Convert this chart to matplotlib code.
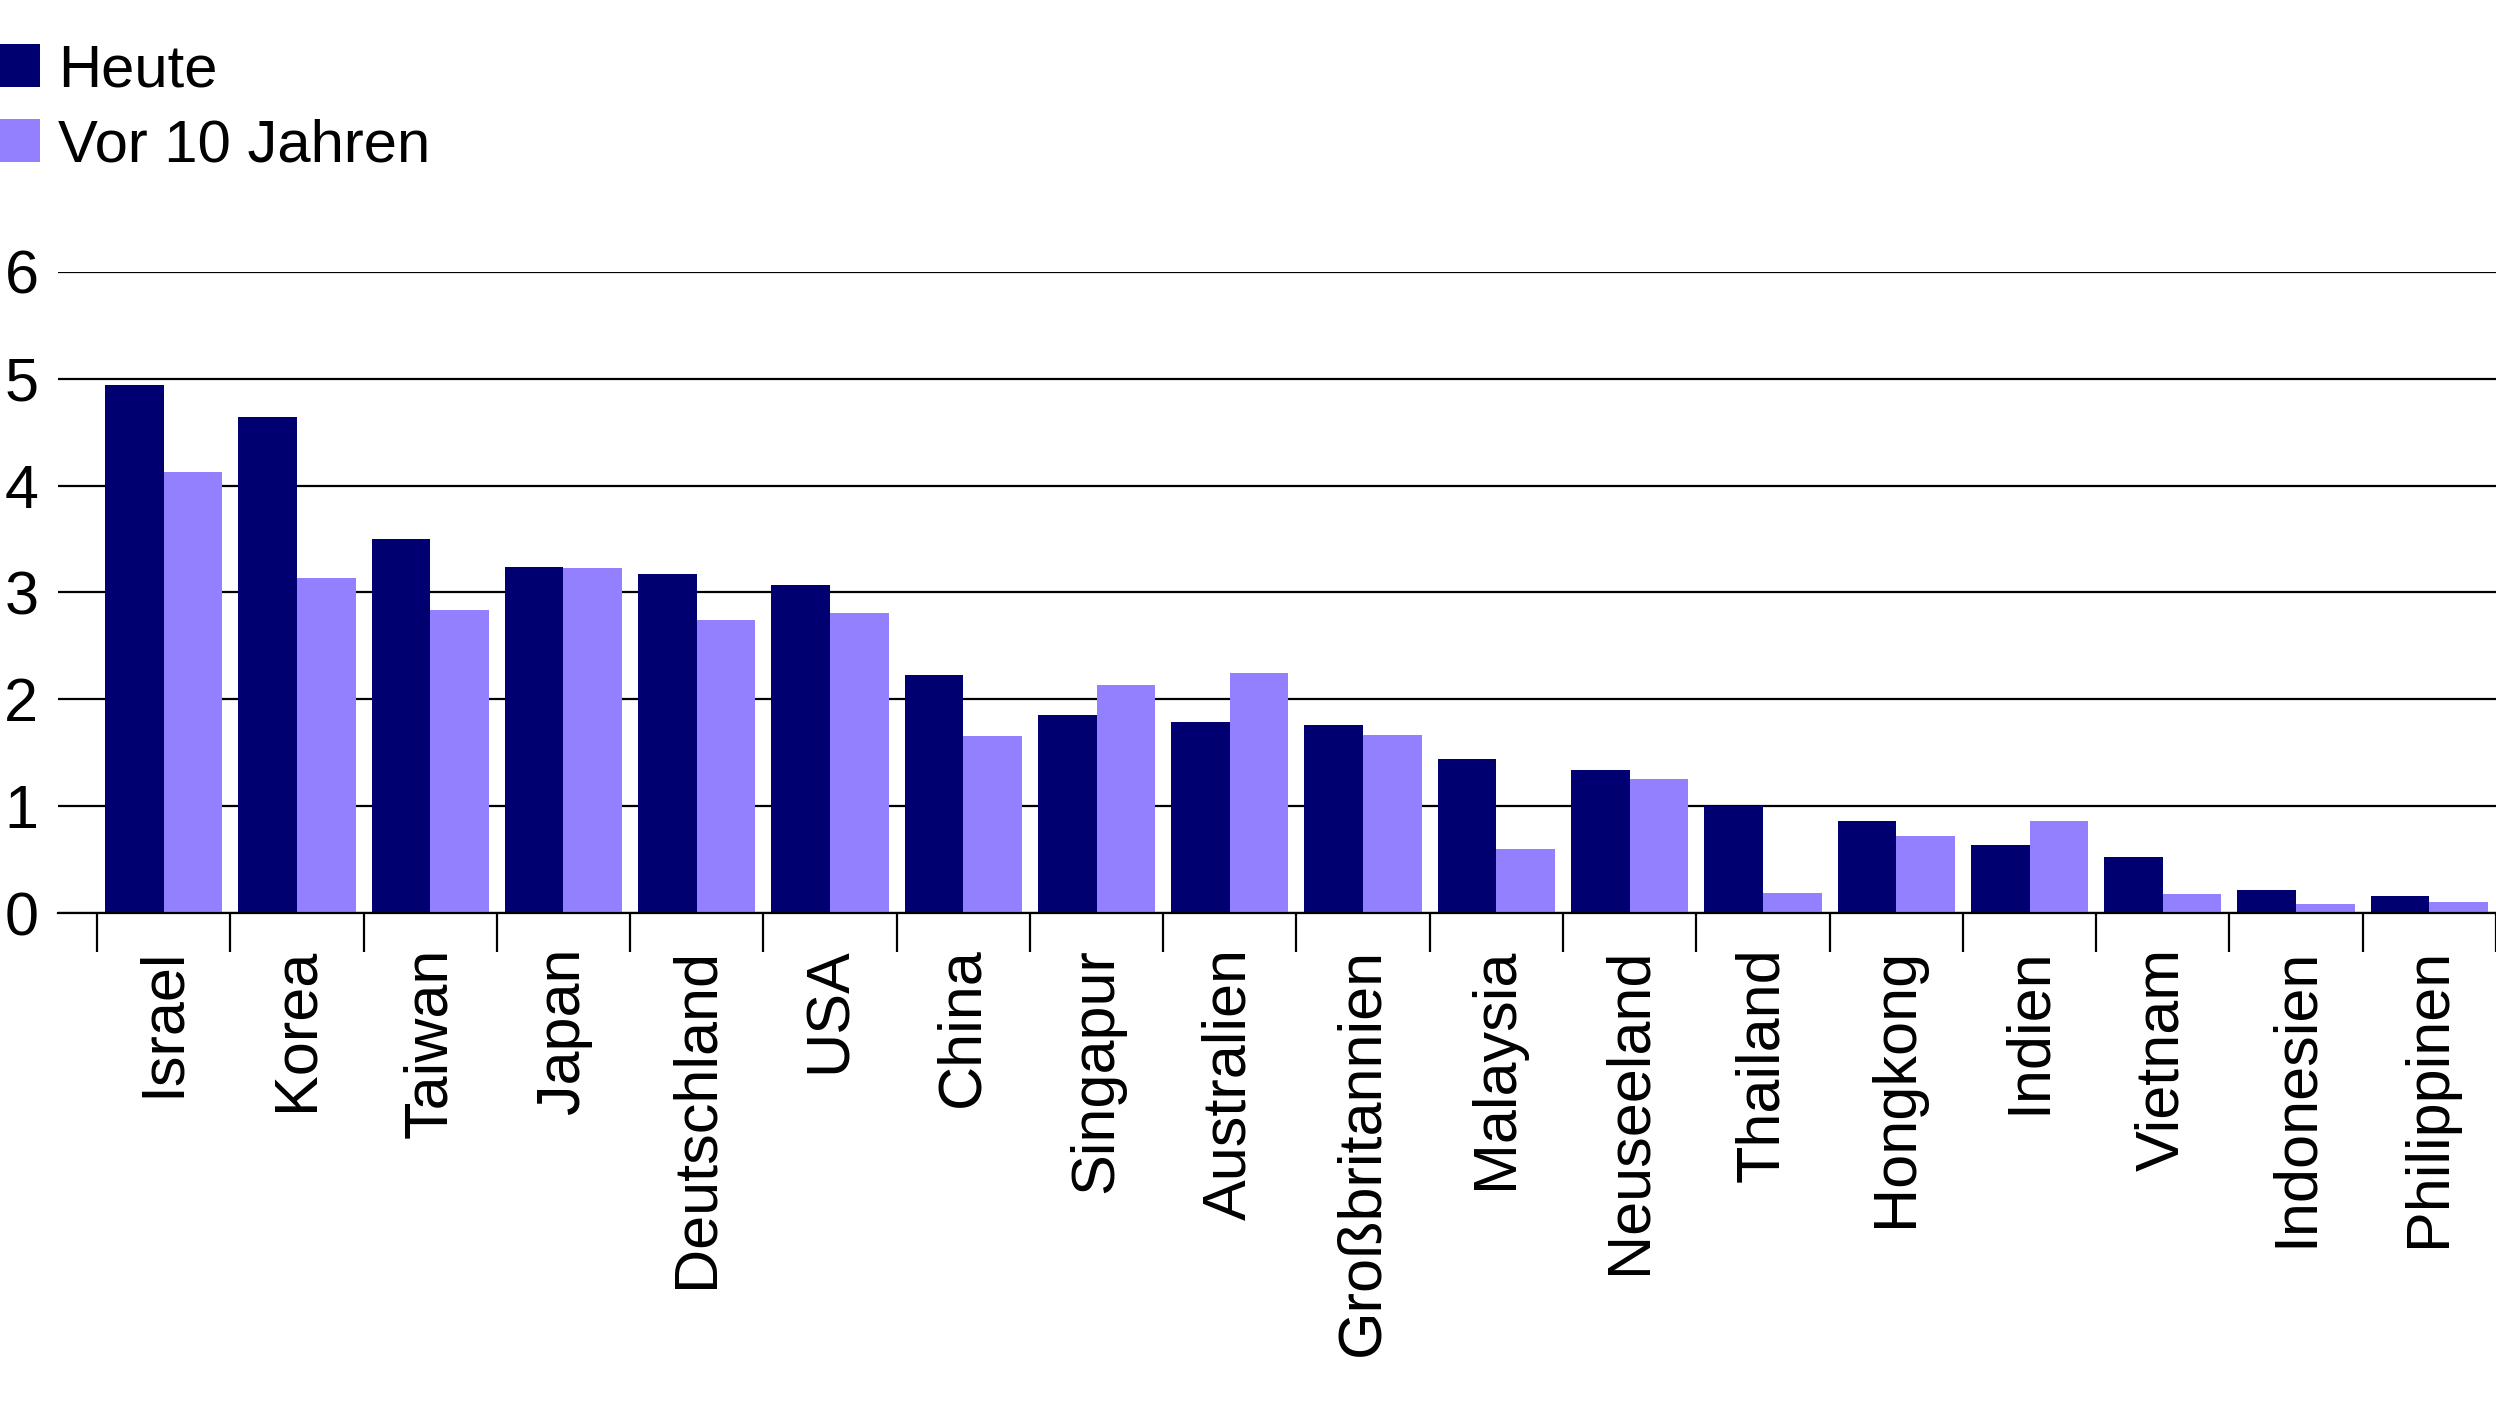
import matplotlib
matplotlib.use("Agg")
import matplotlib.pyplot as plt
import numpy as np
from matplotlib.patches import Patch

plt.rcParams['font.family'] = ['Liberation Sans', 'DejaVu Sans']

# data
countries = ['Israel', 'Korea', 'Taiwan', 'Japan', 'Deutschland', 'USA', 'China',
             'Singapur', 'Australien', 'Großbritannien', 'Malaysia', 'Neuseeland',
             'Thailand', 'Hongkong', 'Indien', 'Vietnam', 'Indonesien', 'Philippinen']
heute = [4.94, 4.64, 3.50, 3.24, 3.17, 3.07, 2.23, 1.85, 1.79, 1.76, 1.44, 1.34,
         1.00, 0.86, 0.64, 0.525, 0.22, 0.16]
vor10 = [4.13, 3.14, 2.84, 3.23, 2.74, 2.81, 1.66, 2.13, 2.25, 1.67, 0.60, 1.25,
         0.19, 0.72, 0.86, 0.18, 0.08, 0.10]
yticks = [0, 1, 2, 3, 4, 5, 6]
series_names = ['Heute', 'Vor 10 Jahren']

dark = '#000070'
light = '#9380FF'

fig = plt.figure(figsize=(24.96, 14.04), dpi=100)
ax = fig.add_axes([0.0232, 0.3497, 1 - 0.0232, 0.8063 - 0.3497])

x = np.arange(len(countries))
w = 0.44
ax.bar(x - w / 2, heute, width=w, color=dark, zorder=3)
ax.bar(x + w / 2, vor10, width=w, color=light, zorder=3)

ax.set_xlim(-0.793, 17.49)
ax.set_ylim(0, 6)

# horizontal gridlines
ax.set_yticks(yticks)
ax.set_yticklabels([str(t) for t in yticks])
ax.yaxis.grid(True, color='black', linewidth=1.6, zorder=1)
ax.set_axisbelow(True)
ax.tick_params(axis='y', length=0, pad=14, labelsize=44)

# category labels at centres, tick marks at boundaries
ax.set_xticks(x)
ax.set_xticklabels(countries, rotation=90)
ax.set_xticks(np.arange(-0.5, len(countries), 1.0), minor=True)
ax.tick_params(axis='x', which='major', length=0, pad=25, labelsize=44)
ax.tick_params(axis='x', which='minor', length=28, width=1.6, color='black')

for s in ['top', 'right', 'left']:
    ax.spines[s].set_visible(False)
ax.spines['bottom'].set_color('black')
ax.spines['bottom'].set_linewidth(1.6)
ax.spines['bottom'].set_zorder(4)

handles = [Patch(facecolor=dark, edgecolor='none'),
           Patch(facecolor=light, edgecolor='none')]
fig.legend(handles, series_names, loc='upper left', bbox_to_anchor=(-0.003, 0.969),
           frameon=False, fontsize=43, borderpad=0, borderaxespad=0,
           handlelength=0.8, handleheight=0.72, handletextpad=0.3,
           labelspacing=0.33)

fig.savefig('out.png', dpi=100)
